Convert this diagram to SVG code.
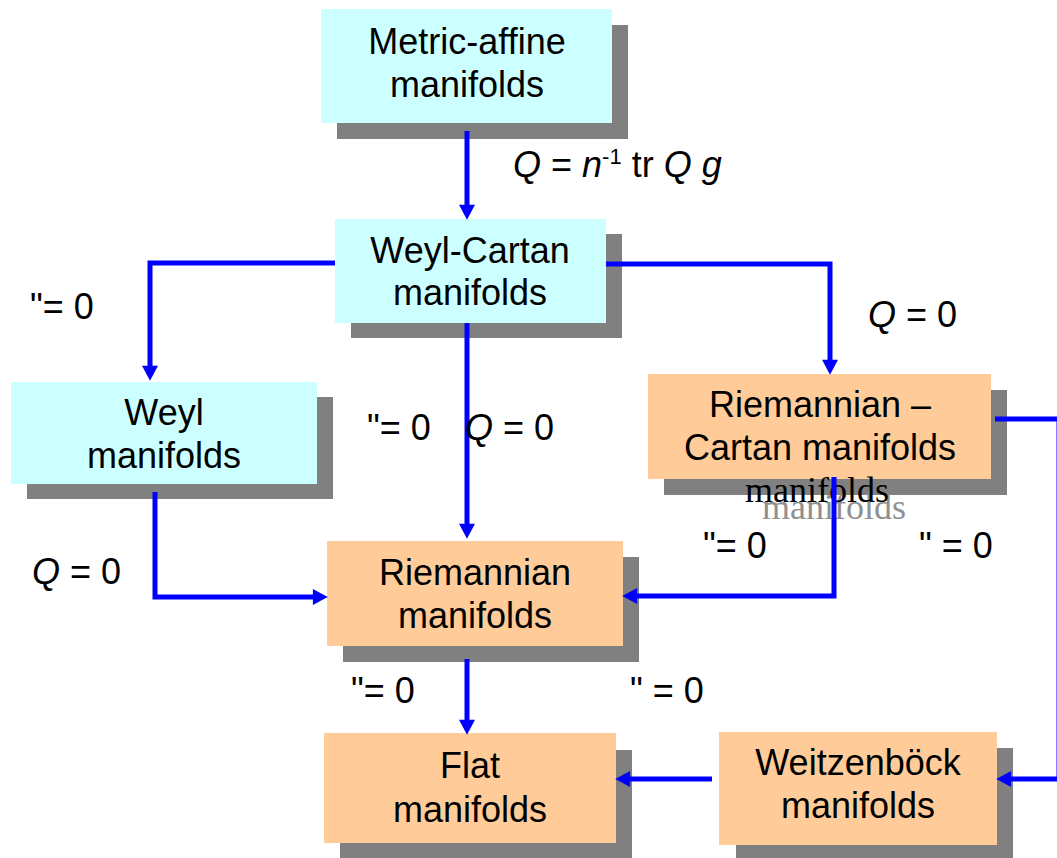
<svg xmlns="http://www.w3.org/2000/svg" width="1057" height="858" viewBox="0 0 1057 858">
<style>
text { font-family: "Liberation Sans", Arial, sans-serif; font-size: 36px; fill: #000; }
.c { text-anchor: middle; }
.cyan { fill: #CCFFFF; }
.orange { fill: #FFCC99; }
.shadow { fill: #808080; }
.conn { fill: none; stroke: #0000FF; stroke-width: 5; marker-end: url(#ah); }
.plain { fill: none; stroke: #0000FF; stroke-width: 5; }
.serif { font-family: "Liberation Serif", "Times New Roman", serif; }
</style>
<defs>
<marker id="ah" markerUnits="userSpaceOnUse" markerWidth="16" markerHeight="16" viewBox="0 0 14 15" refX="2" refY="7.5" orient="auto">
<path d="M0,0 L14,7.5 L0,15 z" fill="#0000FF"/>
</marker>
</defs>
<rect width="1057" height="858" fill="#FFFFFF"/>

<g id="metric-affine">
<rect class="shadow" x="337" y="25" width="291" height="114"/>
<rect class="cyan" x="321" y="9" width="291" height="114"/>
<text class="c" x="467" y="54">Metric-affine</text>
<text class="c" x="467" y="97">manifolds</text>
</g>

<g id="weyl-cartan">
<rect class="shadow" x="351" y="234" width="271" height="104"/>
<rect class="cyan" x="335" y="219" width="271" height="104"/>
<text class="c" x="470" y="263">Weyl-Cartan</text>
<text class="c" x="470" y="305">manifolds</text>
</g>

<g id="weyl">
<rect class="shadow" x="27" y="397" width="306" height="102"/>
<rect class="cyan" x="11" y="382" width="306" height="102"/>
<text class="c" x="164" y="425">Weyl</text>
<text class="c" x="164" y="468">manifolds</text>
</g>

<g id="riemann-cartan">
<rect class="shadow" x="664" y="390" width="343" height="105"/>
<rect class="orange" x="648" y="374" width="343" height="105"/>
<text class="c" x="820" y="417">Riemannian –</text>
<text class="c" x="820" y="460">Cartan manifolds</text>
<text class="serif" x="762" y="519" fill="#909090" style="fill:#909090">manifolds</text>
<text class="serif" x="745" y="502">manifolds</text>
</g>

<g id="riemannian">
<rect class="shadow" x="343" y="557" width="296" height="105"/>
<rect class="orange" x="327" y="541" width="296" height="105"/>
<text class="c" x="475" y="585">Riemannian</text>
<text class="c" x="475" y="628">manifolds</text>
</g>

<g id="flat">
<rect class="shadow" x="340" y="750" width="292" height="120"/>
<rect class="orange" x="324" y="733" width="292" height="110"/>
<text class="c" x="470" y="778">Flat</text>
<text class="c" x="470" y="822">manifolds</text>
</g>

<g id="weitzenbock">
<rect class="shadow" x="736" y="748" width="277" height="120"/>
<rect class="orange" x="719" y="732" width="278" height="113"/>
<text class="c" x="858" y="775">Weitzenböck</text>
<text class="c" x="858" y="818">manifolds</text>
</g>

<g id="connectors">
<path class="conn" d="M467,131 L467,207"/>
<path class="conn" d="M335,263 L150,263 L150,368"/>
<path class="conn" d="M606,264 L830,264 L830,362"/>
<path class="conn" d="M467,323 L467,526"/>
<path class="conn" d="M155,492 L155,597 L315,597"/>
<path class="conn" d="M834,477 L834,596 L635,596"/>
<path class="conn" d="M467,659 L467,722"/>
<path class="conn" d="M712,779 L628,779"/>
<path class="conn" d="M995,419 L1059,419 L1059,779 L1009,779"/>
</g>

<g id="labels">
<text x="513" y="177"><tspan font-style="italic">Q</tspan> = <tspan font-style="italic">n</tspan><tspan font-size="22" dy="-13">-1</tspan><tspan dy="13"> tr </tspan><tspan font-style="italic">Q</tspan> <tspan font-style="italic">g</tspan></text>
<text x="30" y="319">"= 0</text>
<text x="868" y="327"><tspan font-style="italic">Q</tspan> = 0</text>
<text x="367" y="440">"= 0</text>
<text x="465" y="440"><tspan font-style="italic">Q</tspan> = 0</text>
<text x="32" y="584"><tspan font-style="italic">Q</tspan> = 0</text>
<text x="703" y="558">"= 0</text>
<text x="919" y="558">" = 0</text>
<text x="351" y="703">"= 0</text>
<text x="630" y="703">" = 0</text>
</g>
</svg>
